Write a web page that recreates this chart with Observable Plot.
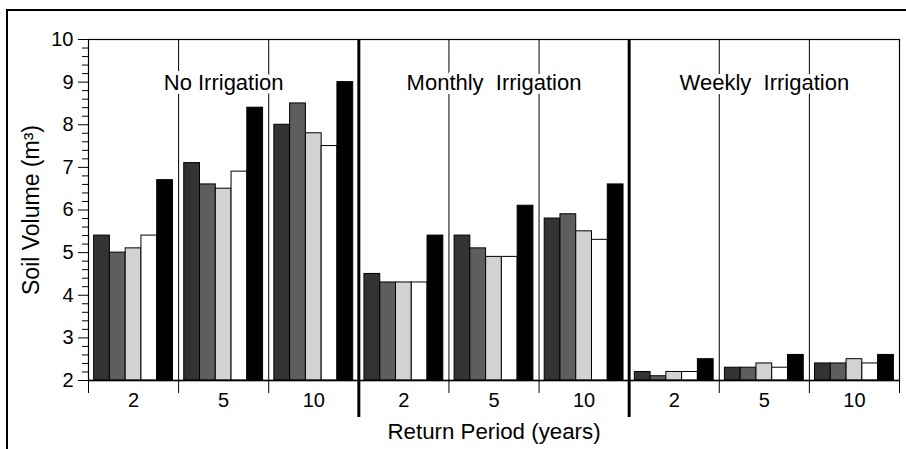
<!DOCTYPE html>
<html>
<head>
<meta charset="utf-8">
<script src="https://cdn.jsdelivr.net/npm/d3@7"></script>
<script src="https://cdn.jsdelivr.net/npm/@observablehq/plot@0.6"></script>
<style>
  html, body { margin: 0; padding: 0; background: #fff; overflow: hidden; }
  #wrap { position: relative; width: 906px; height: 449px; }
  #border { position: absolute; left: 6px; top: 9px; width: 1000px; height: 1000px;
            border-top: 2px solid #000; border-left: 2px solid #000; pointer-events: none; }
</style>
</head>
<body>
<div id="wrap"><div id="chart"></div><div id="border"></div></div>
<script>
// ---- data ----
const irrigations = ["No Irrigation", "Monthly  Irrigation", "Weekly  Irrigation"];
const periods = ["2", "5", "10"];
const seriesNames = ["Series 1", "Series 2", "Series 3", "Series 4", "Series 5"];
const seriesColors = ["#333333", "#5e5e5e", "#d2d2d2", "#ffffff", "#000000"];
// values per series, groups ordered: No(2,5,10), Monthly(2,5,10), Weekly(2,5,10)
const series1 = [5.4, 7.1, 8.0, 4.5, 5.4, 5.8, 2.2, 2.3, 2.4];
const series2 = [5.0, 6.6, 8.5, 4.3, 5.1, 5.9, 2.1, 2.3, 2.4];
const series3 = [5.1, 6.5, 7.8, 4.3, 4.9, 5.5, 2.2, 2.4, 2.5];
const series4 = [5.4, 6.9, 7.5, 4.3, 4.9, 5.3, 2.2, 2.3, 2.4];
const series5 = [6.7, 8.4, 9.0, 5.4, 6.1, 6.6, 2.5, 2.6, 2.6];
const yTicks = [2, 3, 4, 5, 6, 7, 8, 9, 10];

// ---- build table ----
const allSeries = [series1, series2, series3, series4, series5];
const BAR = 0.175; // bar width as a fraction of a group
const rows = [];
irrigations.forEach((irr, p) => {
  periods.forEach((per, q) => {
    const g = p * periods.length + q;
    allSeries.forEach((vals, i) => {
      const x1 = g + 0.5 + (i - allSeries.length / 2) * BAR;
      rows.push({irrigation: irr, period: per, series: seriesNames[i], value: vals[g], x1, x2: x1 + BAR});
    });
  });
});
const nGroups = irrigations.length * periods.length;
const boundaries = d3.range(0, nGroups + 1);
const panelBounds = d3.range(1, irrigations.length).map(p => p * periods.length);
const innerBounds = boundaries.filter(b => b > 0 && b < nGroups && !panelBounds.includes(b));
const groupCenters = d3.range(nGroups).map(g => g + 0.5);
const minorTicks = d3.range(2, 10.001, 0.2).filter(v => Math.abs(v - Math.round(v)) > 1e-6);

const chart = Plot.plot({
  width: 906,
  height: 449,
  marginLeft: 88,
  marginRight: 7,
  marginTop: 39,
  marginBottom: 69,
  style: {fontFamily: "'Liberation Sans', Arial, sans-serif", fontSize: "20px", color: "#000", background: "#fff"},
  x: {domain: [0, nGroups], axis: null},
  y: {domain: [2, 10], clamp: true, axis: null},
  color: {domain: seriesNames, range: seriesColors},
  marks: [
    Plot.ruleX(innerBounds, {stroke: "#000", strokeWidth: 1}),
    Plot.rectY(rows, {x1: "x1", x2: "x2", y: "value", fill: "series", stroke: "#000", strokeWidth: 1}),
    Plot.text(irrigations, {
      x: (d, i) => i * periods.length + periods.length / 2,
      text: d => d,
      frameAnchor: "top", dy: 35,
      fontSize: 22, fill: "#000", stroke: "#fff", strokeWidth: 8, paintOrder: "stroke"
    }),
    Plot.frame({stroke: "#000", strokeWidth: 1.2}),
    Plot.ruleX(panelBounds, {stroke: "#000", strokeWidth: 3}),
    // y axis: major + minor ticks, then title
    Plot.axisY(yTicks, {anchor: "left", tickSize: 10, tickPadding: 5, fontSize: 20, stroke: "#000", label: null}),
    Plot.axisY(minorTicks, {anchor: "left", tickSize: 6, text: null, label: null, stroke: "#000"}),
    Plot.axisY([], {anchor: "left", tickSize: 0, fontSize: 23,
      label: "Soil Volume (m³)", labelArrow: "none", labelAnchor: "center", labelOffset: 66}),
    // x axis: group boundary ticks, period labels, panel dividers, title
    Plot.axisX(boundaries, {anchor: "bottom", tickSize: 13, text: null, label: null, stroke: "#000"}),
    Plot.axisX(panelBounds, {anchor: "bottom", tickSize: 37, text: null, label: null, stroke: "#000", strokeWidth: 3}),
    Plot.axisX(groupCenters, {anchor: "bottom", tickSize: 0, tickPadding: 12, fontSize: 20,
      tickFormat: d => periods[Math.floor(d) % periods.length], label: null}),
    Plot.axisX([], {anchor: "bottom", tickSize: 0, fontSize: 22.3,
      label: "Return Period (years)", labelArrow: "none", labelAnchor: "center", labelOffset: 58}),
    Plot.ruleY([2], {stroke: "#000", strokeWidth: 1.5})
  ]
});
document.getElementById("chart").appendChild(chart);
</script>
</body>
</html>
